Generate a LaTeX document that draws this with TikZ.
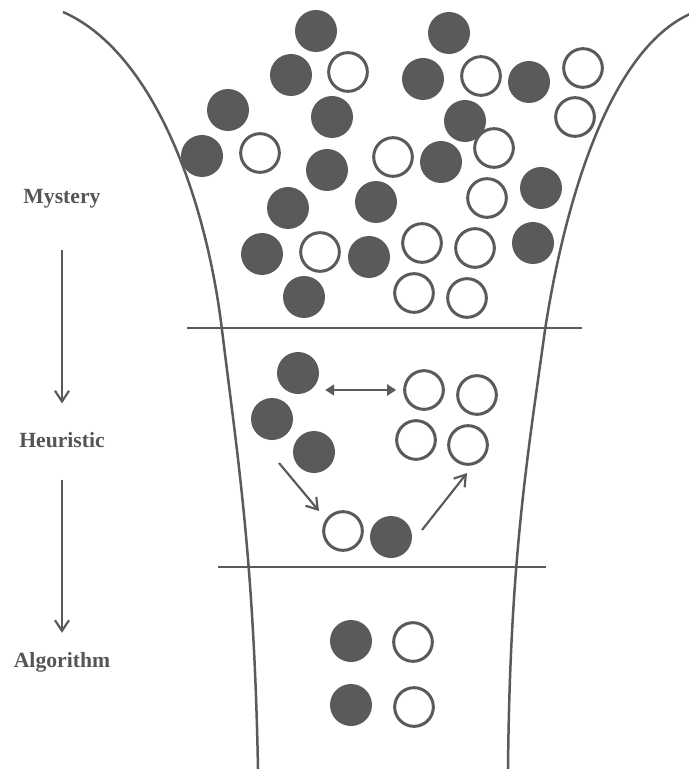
\documentclass[tikz,border=0pt]{standalone}
\usepackage{fontspec}
\setmainfont{Liberation Serif}
\usepackage{tikz}
\usetikzlibrary{arrows.meta}
\definecolor{FunnelGray}{HTML}{5A5A5A}
\definecolor{LabelGray}{HTML}{555555}
\tikzset{
  fball/.style={circle,fill=FunnelGray,minimum size=1.26cm,inner sep=0pt},
  oball/.style={circle,draw=FunnelGray,fill=white,line width=0.09cm,
    minimum size=1.16cm,inner sep=0pt},
  wall/.style={FunnelGray,line width=0.075cm},
  stage/.style={font=\fontsize{18.5}{20}\selectfont\bfseries,text=LabelGray,inner sep=0pt},
  downarrow/.style={-{Straight Barb[length=0.32cm,width=0.42cm]},FunnelGray,line width=0.065cm},
  swaparrow/.style={{Triangle[length=0.27cm,width=0.33cm]}-{Triangle[length=0.27cm,width=0.33cm]},
    FunnelGray,line width=0.065cm}
}

\begin{document}
\begin{tikzpicture}[x=0.03cm,y=-0.03cm]
  \path[use as bounding box] (0,0) rectangle (688,769);

  % funnel walls and stage borders
  \draw[wall] (63,12) .. controls (150,50) and (205,190) .. (222,330)
    .. controls (238,460) and (254,560) .. (258,769);
  \draw[wall] (690,14) .. controls (610,50) and (565,200) .. (545,330)
    .. controls (527,460) and (510,560) .. (508,769);
  \draw[wall] (187,328) -- (582,328);
  \draw[wall] (218,567) -- (546,567);

  % stage labels
  \node[stage] (mystery) at (62,199) {Mystery};
  \node[stage] (heuristic) at (62,440) {Heuristic};
  \node[stage] (algorithm) at (62,662) {Algorithm};
  \draw[downarrow,shorten <=1.23cm,shorten >=0.86cm] (mystery) -- (heuristic);
  \draw[downarrow,shorten <=0.95cm,shorten >=0.57cm] (heuristic) -- (algorithm);

  % mystery: mixed heap
  \node[fball] (m1) at (316,31) {};
  \node[fball] (m2) at (449,33) {};
  \node[fball] (m3) at (291,75) {};
  \node[fball] (m4) at (423,79) {};
  \node[fball] (m5) at (529,82) {};
  \node[fball] (m6) at (228,110) {};
  \node[fball] (m7) at (332,117) {};
  \node[fball] (m8) at (465,121) {};
  \node[fball] (m9) at (202,156) {};
  \node[fball] (m10) at (327,170) {};
  \node[fball] (m11) at (441,162) {};
  \node[fball] (m12) at (376,202) {};
  \node[fball] (m13) at (288,208) {};
  \node[fball] (m14) at (541,188) {};
  \node[fball] (m15) at (262,254) {};
  \node[fball] (m16) at (369,257) {};
  \node[fball] (m17) at (533,243) {};
  \node[fball] (m18) at (304,297) {};
  \node[oball] (n1) at (348,72) {};
  \node[oball] (n2) at (481,76) {};
  \node[oball] (n3) at (583,68) {};
  \node[oball] (n4) at (575,117) {};
  \node[oball] (n5) at (260,153) {};
  \node[oball] (n6) at (393,157) {};
  \node[oball] (n7) at (494,148) {};
  \node[oball] (n8) at (487,198) {};
  \node[oball] (n9) at (320,252) {};
  \node[oball] (n10) at (422,243) {};
  \node[oball] (n11) at (475,248) {};
  \node[oball] (n12) at (414,293) {};
  \node[oball] (n13) at (467,298) {};

  % heuristic: sorting by rule of thumb
  \node[fball] (h1) at (298,373) {};
  \node[fball] (h2) at (272,419) {};
  \node[fball] (h3) at (314,452) {};
  \node[oball] (h4) at (424,390) {};
  \node[oball] (h5) at (477,395) {};
  \node[oball] (h6) at (416,440) {};
  \node[oball] (h7) at (468,445) {};
  \node[oball] (h8) at (343,531) {};
  \node[fball] (h9) at (391,537) {};
  \draw[swaparrow,shorten <=0.18cm,shorten >=0.21cm] (h1.east |- h4.west) -- (h4.west);
  \coordinate (slipA) at (279,463);
  \coordinate (slipB) at (319,511);
  \coordinate (slipC) at (422,530);
  \coordinate (slipD) at (467,473);
  \draw[downarrow] (slipA) -- (slipB);
  \draw[downarrow] (slipC) -- (slipD);

  % algorithm: ordered pairs
  \node[fball] (a1) at (351,641) {};
  \node[oball] (a2) at (413,642) {};
  \node[fball] (a3) at (351,705) {};
  \node[oball] (a4) at (414,707) {};
\end{tikzpicture}
\end{document}
